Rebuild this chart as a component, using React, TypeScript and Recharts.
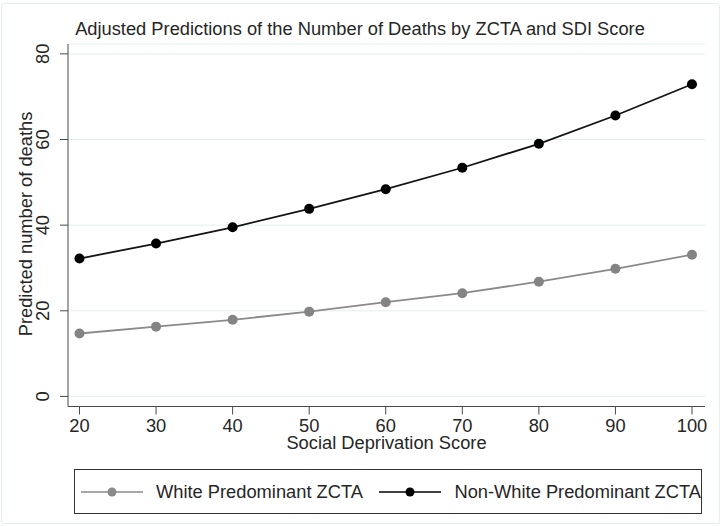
import React from 'react';
import { LineChart, Line, XAxis, YAxis, CartesianGrid } from 'recharts';

const sdiScores = [20, 30, 40, 50, 60, 70, 80, 90, 100];
const whiteDeaths = [14.7, 16.3, 17.9, 19.8, 22.0, 24.1, 26.8, 29.8, 33.1];
const nonWhiteDeaths = [32.2, 35.7, 39.5, 43.8, 48.4, 53.4, 59.0, 65.6, 72.9];
const yTicks = [0, 20, 40, 60, 80];

const FONT = '"Liberation Sans", Arial, Helvetica, sans-serif';
const FS = 18.3;
const TEXT_COLOR = '#262626';
const AXIS_COLOR = '#4a4a4a';
const WHITE_COLOR = '#8a8a8a';
const NONWHITE_COLOR = '#141414';

const data = sdiScores.map((s, i) => ({
  sdi: s,
  white: whiteDeaths[i],
  nonWhite: nonWhiteDeaths[i],
}));

// rotated y tick labels, stata style
const YTick = (props: any) => {
  const { x, y, payload } = props;
  const bx = x - 10.5;
  return (
    <text
      x={bx}
      y={y}
      transform={`rotate(-90 ${bx} ${y})`}
      textAnchor="middle"
      fontSize={FS}
      fontFamily={FONT}
      fill={TEXT_COLOR}
    >
      {payload.value}
    </text>
  );
};

const LegendItem = ({ color, label }: { color: string; label: string }) => (
  <span style={{ display: 'inline-flex', alignItems: 'center' }}>
    <svg width={62} height={14} style={{ marginRight: 13 }}>
      <line x1={0} y1={7} x2={62} y2={7} stroke={color} strokeWidth={1.6} />
      <circle cx={31} cy={7} r={4.5} fill={color} />
    </svg>
    <span>{label}</span>
  </span>
);

const App: React.FC = () => {
  return (
    <div
      style={{
        position: 'absolute',
        left: 0,
        top: 0,
        width: 723,
        height: 526,
        background: '#fff',
        fontFamily: FONT,
      }}
    >
      <div
        style={{
          position: 'absolute',
          left: 1,
          top: 3,
          width: 719,
          height: 521,
          boxSizing: 'border-box',
          border: '1px solid #e6eef0',
          borderRadius: 3,
        }}
      />
      <svg
        width={723}
        height={50}
        style={{ position: 'absolute', left: 0, top: 0 }}
      >
        <text
          x={360}
          y={35}
          textAnchor="middle"
          fontSize={FS}
          fontFamily={FONT}
          fill={TEXT_COLOR}
        >
          Adjusted Predictions of the Number of Deaths by ZCTA and SDI Score
        </text>
      </svg>

      <div style={{ position: 'absolute', left: 0, top: 0 }}>
        <LineChart
          width={723}
          height={526}
          data={data}
          margin={{ top: 44, right: 18, left: 0, bottom: 0 }}
        >
          <CartesianGrid
            horizontal
            vertical={false}
            stroke="#e4eef0"
            strokeWidth={1}
          />
          <XAxis
            dataKey="sdi"
            type="number"
            domain={[18.5, 101.7]}
            ticks={sdiScores}
            allowDataOverflow
            height={119.5}
            tickSize={8}
            tickMargin={5}
            stroke={AXIS_COLOR}
            tick={{ fontSize: FS, fontFamily: FONT, fill: TEXT_COLOR }}
            label={{
              content: () => (
                <text
                  x={386.5}
                  y={449}
                  textAnchor="middle"
                  fontSize={FS}
                  fontFamily={FONT}
                  fill={TEXT_COLOR}
                >
                  Social Deprivation Score
                </text>
              ),
            }}
          />
          <YAxis
            type="number"
            domain={[-2.35, 82.3]}
            ticks={yTicks}
            allowDataOverflow
            width={68}
            tickSize={8}
            tickMargin={0}
            stroke={AXIS_COLOR}
            tick={<YTick />}
            label={{
              content: () => (
                <text
                  x={31.5}
                  y={224}
                  transform="rotate(-90 31.5 224)"
                  textAnchor="middle"
                  fontSize={FS}
                  fontFamily={FONT}
                  fill={TEXT_COLOR}
                >
                  Predicted number of deaths
                </text>
              ),
            }}
          />
          <Line
            type="linear"
            dataKey="white"
            stroke={WHITE_COLOR}
            strokeWidth={1.8}
            dot={{ r: 5, fill: '#848484', stroke: '#848484', strokeWidth: 0 }}
            activeDot={false}
            isAnimationActive={false}
          />
          <Line
            type="linear"
            dataKey="nonWhite"
            stroke={NONWHITE_COLOR}
            strokeWidth={1.8}
            dot={{ r: 5, fill: '#000', stroke: '#000', strokeWidth: 0 }}
            activeDot={false}
            isAnimationActive={false}
          />
        </LineChart>
      </div>

      <div
        style={{
          position: 'absolute',
          left: 74,
          top: 469,
          width: 628,
          height: 45,
          boxSizing: 'border-box',
          border: '1px solid #333',
          display: 'flex',
          alignItems: 'center',
          paddingLeft: 6,
          fontSize: FS,
          color: TEXT_COLOR,
          whiteSpace: 'nowrap',
        }}
      >
        <LegendItem color={WHITE_COLOR} label="White Predominant ZCTA" />
        <span style={{ width: 17 }} />
        <LegendItem color="#000" label="Non-White Predominant ZCTA" />
      </div>
    </div>
  );
};

export default App;
